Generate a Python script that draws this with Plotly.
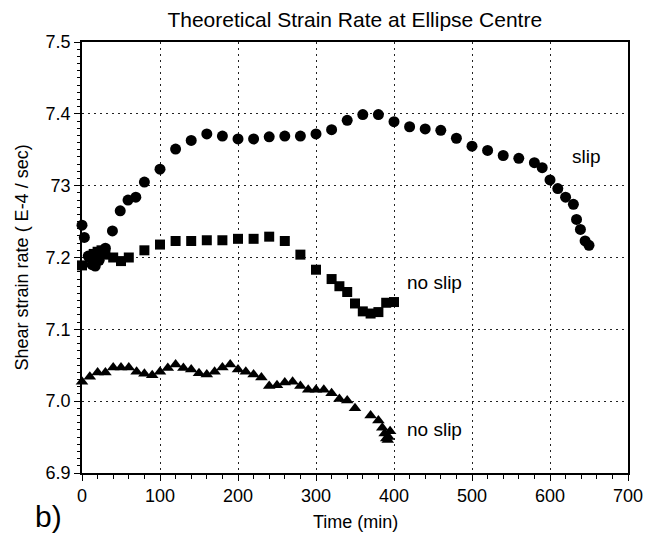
import plotly.graph_objects as go

# Slip (circles)
slip_t = [0, 3, 8, 13, 17, 22, 25, 30, 39, 49, 59, 69, 80, 100, 120, 140, 160, 180, 200,
          220, 240, 260, 280, 300, 320, 340, 360, 380, 400, 420, 440, 460, 480, 500, 520,
          540, 560, 580, 590, 600, 610, 620, 630, 634, 639, 645, 650]
slip_v = [7.245, 7.228, 7.202, 7.190, 7.188, 7.196, 7.205, 7.213, 7.237, 7.265, 7.280, 7.284,
          7.305, 7.323, 7.351, 7.363, 7.372, 7.369, 7.365, 7.365, 7.368, 7.369, 7.369, 7.372,
          7.378, 7.391, 7.399, 7.399, 7.389, 7.382, 7.379, 7.377, 7.366, 7.355, 7.349, 7.342,
          7.338, 7.332, 7.325, 7.308, 7.296, 7.284, 7.274, 7.253, 7.239, 7.223, 7.217]

# No slip (squares)
sq_t = [0, 10, 15, 20, 25, 30, 40, 50, 60, 80, 100, 120, 140, 160, 180, 200, 220, 240, 260,
        280, 300, 320, 330, 340, 350, 360, 370, 380, 390, 400]
sq_v = [7.189, 7.200, 7.205, 7.208, 7.210, 7.204, 7.200, 7.195, 7.200, 7.210, 7.218, 7.223,
        7.223, 7.224, 7.224, 7.226, 7.226, 7.229, 7.223, 7.204, 7.183, 7.170, 7.160, 7.152,
        7.136, 7.125, 7.122, 7.124, 7.137, 7.138]

# No slip (triangles)
tr_t = [0, 10, 20, 30, 40, 50, 60, 70, 80, 90, 100, 110, 120, 130, 140, 150, 160, 170, 180,
        190, 200, 210, 220, 230, 240, 250, 260, 270, 280, 290, 300, 310, 320, 330, 340, 350,
        370, 380, 385, 388, 390, 392, 393, 395]
tr_v = [7.027, 7.034, 7.040, 7.040, 7.047, 7.047, 7.047, 7.041, 7.038, 7.036, 7.041, 7.046,
        7.051, 7.046, 7.044, 7.039, 7.037, 7.041, 7.047, 7.051, 7.044, 7.041, 7.037, 7.033,
        7.021, 7.022, 7.026, 7.027, 7.021, 7.016, 7.016, 7.016, 7.011, 7.003, 7.001, 6.990,
        6.980, 6.973, 6.963, 6.955, 6.948, 6.946, 6.950, 6.958]

y_tickvals = [6.9, 7.0, 7.1, 7.2, 7.3, 7.4, 7.5]
y_ticktext = ["6.9", "7.0", "7.1", "7.2", "73", "7.4", "7.5"]
x_tickvals = [0, 100, 200, 300, 400, 500, 600, 700]

FONT = "Liberation Sans, Arial, sans-serif"

fig = go.Figure()
fig.add_trace(go.Scatter(x=slip_t, y=slip_v, mode="markers",
                         marker=dict(symbol="circle", size=11, color="black"),
                         showlegend=False, cliponaxis=False))
fig.add_trace(go.Scatter(x=sq_t, y=sq_v, mode="markers",
                         marker=dict(symbol="square", size=10, color="black"),
                         showlegend=False, cliponaxis=False))
fig.add_trace(go.Scatter(x=tr_t, y=tr_v, mode="markers",
                         marker=dict(symbol="triangle-up", size=11, color="black"),
                         showlegend=False, cliponaxis=False))

grid = dict(showgrid=True, gridcolor="#222", griddash="2px,4px", gridwidth=1)

fig.update_xaxes(range=[0, 700], tickvals=x_tickvals, ticks="outside", ticklen=6,
                 tickwidth=1, tickcolor="black", showline=True, linecolor="black",
                 linewidth=1.5, mirror=True, zeroline=False, automargin=False,
                 minor=dict(dtick=20, ticks="outside", ticklen=4, tickcolor="black", showgrid=False),
                 tickfont=dict(family=FONT, size=18, color="black"),
                 **grid)
fig.update_yaxes(range=[6.9, 7.5], tickvals=y_tickvals, ticktext=y_ticktext,
                 ticks="outside", ticklen=6, tickwidth=1, tickcolor="black",
                 showline=True, linecolor="black", linewidth=1.5, mirror=True, zeroline=False,
                 automargin=False,
                 minor=dict(dtick=0.01, ticks="outside", ticklen=3, tickcolor="black", showgrid=False),
                 tickfont=dict(family=FONT, size=18, color="black"),
                 **grid)

# axis titles as annotations for exact placement
fig.add_annotation(xref="paper", yref="paper", x=0.5, y=-0.1137, text="Time (min)",
                   showarrow=False, xanchor="center", yanchor="middle",
                   font=dict(family=FONT, size=18, color="black"))
fig.add_annotation(xref="paper", yref="paper", x=-0.11, y=0.5,
                   text="Shear strain rate ( E-4 / sec)", textangle=-90,
                   showarrow=False, xanchor="center", yanchor="middle",
                   font=dict(family=FONT, size=18, color="black"))

fig.add_annotation(x=647, y=7.34, text="slip", showarrow=False, xanchor="center",
                   font=dict(family=FONT, size=19, color="black"))
fig.add_annotation(x=414, y=7.165, text="no slip", showarrow=False, xanchor="left",
                   font=dict(family=FONT, size=19, color="black"))
fig.add_annotation(x=414, y=6.961, text="no slip", showarrow=False, xanchor="left",
                   font=dict(family=FONT, size=19, color="black"))
fig.add_annotation(xref="paper", yref="paper", x=-0.062, y=-0.102, text="b)",
                   showarrow=False, xanchor="center", yanchor="middle",
                   font=dict(family=FONT, size=30, color="black"))

fig.update_layout(
    width=651, height=533,
    margin=dict(l=82, r=23, t=42, b=60),
    paper_bgcolor="white", plot_bgcolor="white",
    title=dict(text="Theoretical Strain Rate at Ellipse Centre", x=0.545, xanchor="center",
               y=1 - 20 / 533, yanchor="middle",
               font=dict(family=FONT, size=21, color="black")),
)

fig.write_html("out.html")
